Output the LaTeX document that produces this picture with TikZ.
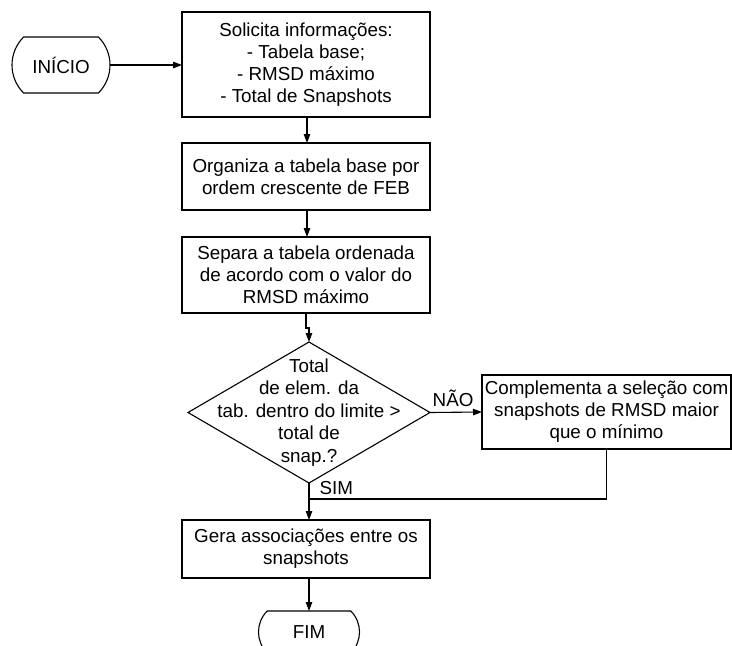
\documentclass[tikz,border=0pt]{standalone}
\usepackage{fontspec}
\setmainfont{Liberation Sans}
\usetikzlibrary{shapes.geometric,shapes.misc,arrows.meta}

\begin{document}
\begin{tikzpicture}[x=1pt,y=-1pt,
  line width=1.1pt,
  txt/.style={font=\fontsize{18.8}{22}\selectfont, align=center},
  procbox/.style={txt, draw, rectangle, inner sep=0pt, outer sep=0pt,
    minimum width=248pt},
  terminal/.style={txt, draw, rounded rectangle, rounded rectangle arc length=90,
    inner sep=0pt, outer sep=0pt},
  decision/.style={draw, diamond, inner sep=0pt, outer sep=0pt,
    minimum width=242pt, minimum height=141pt},
  flow/.style={-{Triangle[length=9pt,width=6.5pt]}},
  lbl/.style={font=\fontsize{18.8}{22}\selectfont, inner sep=0pt}
]
% page frame
\clip (0,0) rectangle (732,646);

% start / end
\node[terminal, minimum width=98pt, minimum height=56pt] (ini) at (61,65) {INÍCIO};
\node[terminal, minimum width=101pt, minimum height=42pt] (fim) at (309,632) {FIM};

% process steps
\node[procbox, minimum height=105pt] (solicita) at (306,64.5)
  {Solicita informações:\\- Tabela base;\\- RMSD máximo\\- Total de Snapshots};
\node[procbox, minimum height=67pt] (organiza) at (306,176.5)
  {Organiza a tabela base por\\ordem crescente de FEB};
\node[procbox, minimum height=76pt] (separa) at (306,275)
  {Separa a tabela ordenada\\de acordo com o valor do\\RMSD máximo};
\node[procbox, minimum height=58pt] (gera) at (306,549)
  {Gera associações entre os\\snapshots};
\node[procbox, minimum width=249pt, minimum height=74pt] (comp) at (606.5,412)
  {Complementa a seleção com\\snapshots de RMSD maior\\que o mínimo};

% decision
\node[decision,
  label={[txt, font=\fontsize{18.8}{22.5}\selectfont, inner sep=0pt]center:{Total\\de elem. da\\tab. dentro do limite >\\total de\\snap.?}}]
  (dec) at (309,412.5) {};

% junction of the two branches
\coordinate (junc) at (309,499);

% connectors
\draw[flow] (ini.east) -- (ini.east -| solicita.west);
\draw[flow] (solicita.south -| 307,0) -- (organiza.north -| 307,0);
\draw[flow] (organiza.south -| 307,0) -- (separa.north -| 307,0);
\draw[flow] (separa.south) -- ++(0,15) -| (dec.north);
\draw[flow] (dec.east) -- (comp.west);
\draw (comp.south) |- (junc);
\draw[flow] (dec.south) -- (dec.south |- gera.north);
\draw[flow] (gera.south -| fim.north) -- (fim.north);

% branch labels
\node[lbl, anchor=east] (nao) at (474,398) {NÃO};
\node[lbl, anchor=west] (sim) at (319,488) {SIM};
\end{tikzpicture}
\end{document}
